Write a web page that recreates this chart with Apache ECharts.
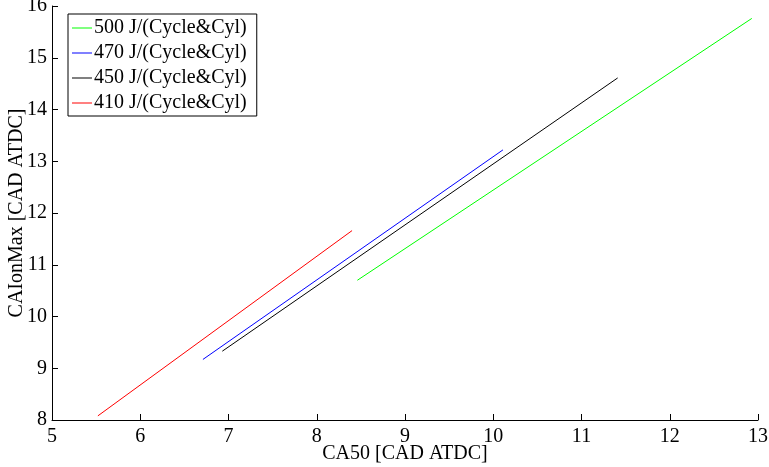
<!DOCTYPE html>
<html><head><meta charset="utf-8">
<script src="https://cdn.jsdelivr.net/npm/echarts@6/dist/echarts.min.js"></script>
<style>html,body{margin:0;padding:0;background:#fff}#c{width:769px;height:467px}</style>
</head><body><div id="c"></div>
<script>
const seriesNames = ['500 J/(Cycle&Cyl)', '470 J/(Cycle&Cyl)', '450 J/(Cycle&Cyl)', '410 J/(Cycle&Cyl)'];
const colors = ['#00ff00', '#0000ff', '#000000', '#ff0000'];
const s500 = [[8.46, 10.70], [12.93, 15.76]];
const s470 = [[6.71, 9.17], [10.11, 13.22]];
const s450 = [[6.93, 9.33], [11.41, 14.61]];
const s410 = [[5.52, 8.08], [8.40, 11.66]];
const xTicks = [5, 6, 7, 8, 9, 10, 11, 12, 13];
const yTicks = [8, 9, 10, 11, 12, 13, 14, 15, 16];
const allData = [s500, s470, s450, s410];
const font = 'Liberation Serif';
const chart = echarts.init(document.getElementById('c'), null, {renderer: 'canvas'});
chart.setOption({
  animation: false,
  backgroundColor: '#fff',
  grid: {left: 52, right: 11, top: 6, bottom: 47, containLabel: false, outerBoundsMode: 'none'},
  legend: {
    orient: 'vertical', left: 68, top: 14,
    data: seriesNames,
    icon: 'rect',
    itemWidth: 20, itemHeight: 1, itemGap: 5,
    padding: [4, 10, 3, 4],
    borderColor: '#000', borderWidth: 1, backgroundColor: '#fff',
    textStyle: {fontFamily: font, fontSize: 20, color: '#000', padding: [0, 0, 0, -3], lineHeight: 20}
  },
  xAxis: {
    type: 'value', min: xTicks[0], max: xTicks[xTicks.length - 1], interval: 1,
    name: 'CA50 [CAD ATDC]', nameLocation: 'middle', nameGap: 24, nameMoveOverlap: false,
    nameTextStyle: {fontFamily: font, fontSize: 20, color: '#000'},
    axisLine: {lineStyle: {color: '#000', width: 1}},
    axisTick: {inside: true, length: 6, lineStyle: {color: '#000'}},
    axisLabel: {fontFamily: font, fontSize: 20, color: '#000', margin: 7},
    splitLine: {show: false}
  },
  yAxis: {
    type: 'value', min: yTicks[0], max: yTicks[yTicks.length - 1], interval: 1,
    name: 'CAIonMax [CAD ATDC]', nameLocation: 'middle', nameGap: 25, nameMoveOverlap: false,
    nameTextStyle: {fontFamily: font, fontSize: 20, color: '#000'},
    axisLine: {show: true, lineStyle: {color: '#000', width: 1}},
    axisTick: {show: true, inside: true, length: 6, lineStyle: {color: '#000'}},
    axisLabel: {fontFamily: font, fontSize: 20, color: '#000', margin: 5},
    splitLine: {show: false}
  },
  series: seriesNames.map((n, i) => ({
    name: n, type: 'line', data: allData[i], showSymbol: false, symbol: 'none',
    lineStyle: {color: colors[i], width: 1}, itemStyle: {color: colors[i]}
  }))
});
</script></body></html>
